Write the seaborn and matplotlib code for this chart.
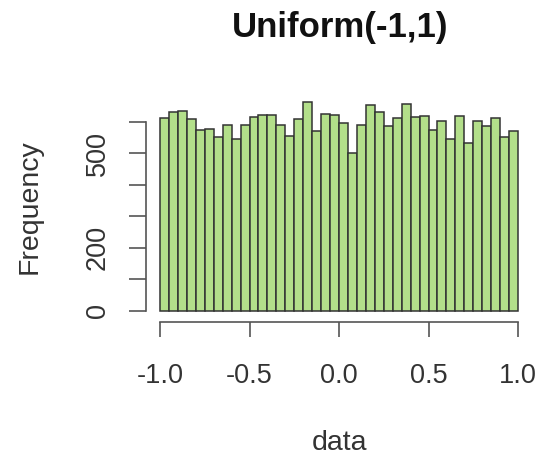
import matplotlib
matplotlib.use("Agg")
import matplotlib.pyplot as plt
import seaborn as sns
import pandas as pd
import numpy as np

# Histogram bins (40 bins of width 0.05 from -1 to 1) and counts
bin_edges = list(np.round(np.linspace(-1.0, 1.0, 41), 3))
counts = [613, 630, 634, 607, 574, 577, 552, 589, 544, 589,
          614, 621, 621, 590, 554, 607, 663, 571, 623, 621,
          597, 499, 589, 653, 630, 587, 611, 655, 614, 618,
          574, 603, 545, 618, 531, 603, 587, 613, 552, 571]
x_ticks = [-1.0, -0.5, 0.0, 0.5, 1.0]
x_tick_labels = ["-1.0", "-0.5", "0.0", "0.5", "1.0"]
y_ticks = [0, 100, 200, 300, 400, 500, 600]
y_tick_labels = ["0", "", "200", "", "", "500", ""]

sns.set_style("white")
plt.rcParams['font.family'] = ['Liberation Sans', 'DejaVu Sans']

df = pd.DataFrame({
    "data": [(a + b) / 2 for a, b in zip(bin_edges[:-1], bin_edges[1:])],
    "count": counts,
})

fig = plt.figure(figsize=(5.39, 4.58), dpi=100)
ax = fig.add_axes([0.2703, 0.3035, 0.7173, 0.4924])

sns.histplot(data=df, x="data", weights="count", bins=bin_edges, ax=ax,
             color="#b3df8a", alpha=1.0, edgecolor="#333333", linewidth=1.1)

# R-like axis ranges (4% padding)
ax.set_xlim(-1.08, 1.08)
ax.set_ylim(-26.5, 689.5)

# R-style detached axes
for side in ["top", "right"]:
    ax.spines[side].set_visible(False)
ax.spines["left"].set_bounds(0, 600)
ax.spines["bottom"].set_bounds(-1, 1)
for side in ["left", "bottom"]:
    ax.spines[side].set_color("#555555")
    ax.spines[side].set_linewidth(1.2)
ax.spines["bottom"].set_position(("outward", 2))

ax.set_xticks(x_ticks)
ax.set_xticklabels(x_tick_labels, fontsize=19.5, color="#333333")
ax.set_yticks(y_ticks)
ax.set_yticklabels(y_tick_labels, fontsize=19.5, color="#333333", rotation=90, va="center")
ax.tick_params(axis="x", length=10.5, width=1.2, color="#555555", pad=19, direction="out", bottom=True)
ax.tick_params(axis="y", length=12, width=1.2, color="#555555", pad=13, direction="out", left=True)

ax.set_xlabel("data", fontsize=20.5, color="#333333")
ax.xaxis.set_label_coords(0.5, (319 - 443) / 225.5)
ax.xaxis.label.set_va("center")
ax.set_ylabel("Frequency", fontsize=20.5, color="#333333")
ax.yaxis.set_label_coords((29.5 - 145.7) / 386.6, 0.5)
ax.yaxis.label.set_va("center")

fig.text(340 / 539, 1 - 27 / 458, "Uniform(-1,1)", fontsize=25, fontweight="bold",
         ha="center", va="center", color="#111111")

fig.savefig("out.png", dpi=100)
